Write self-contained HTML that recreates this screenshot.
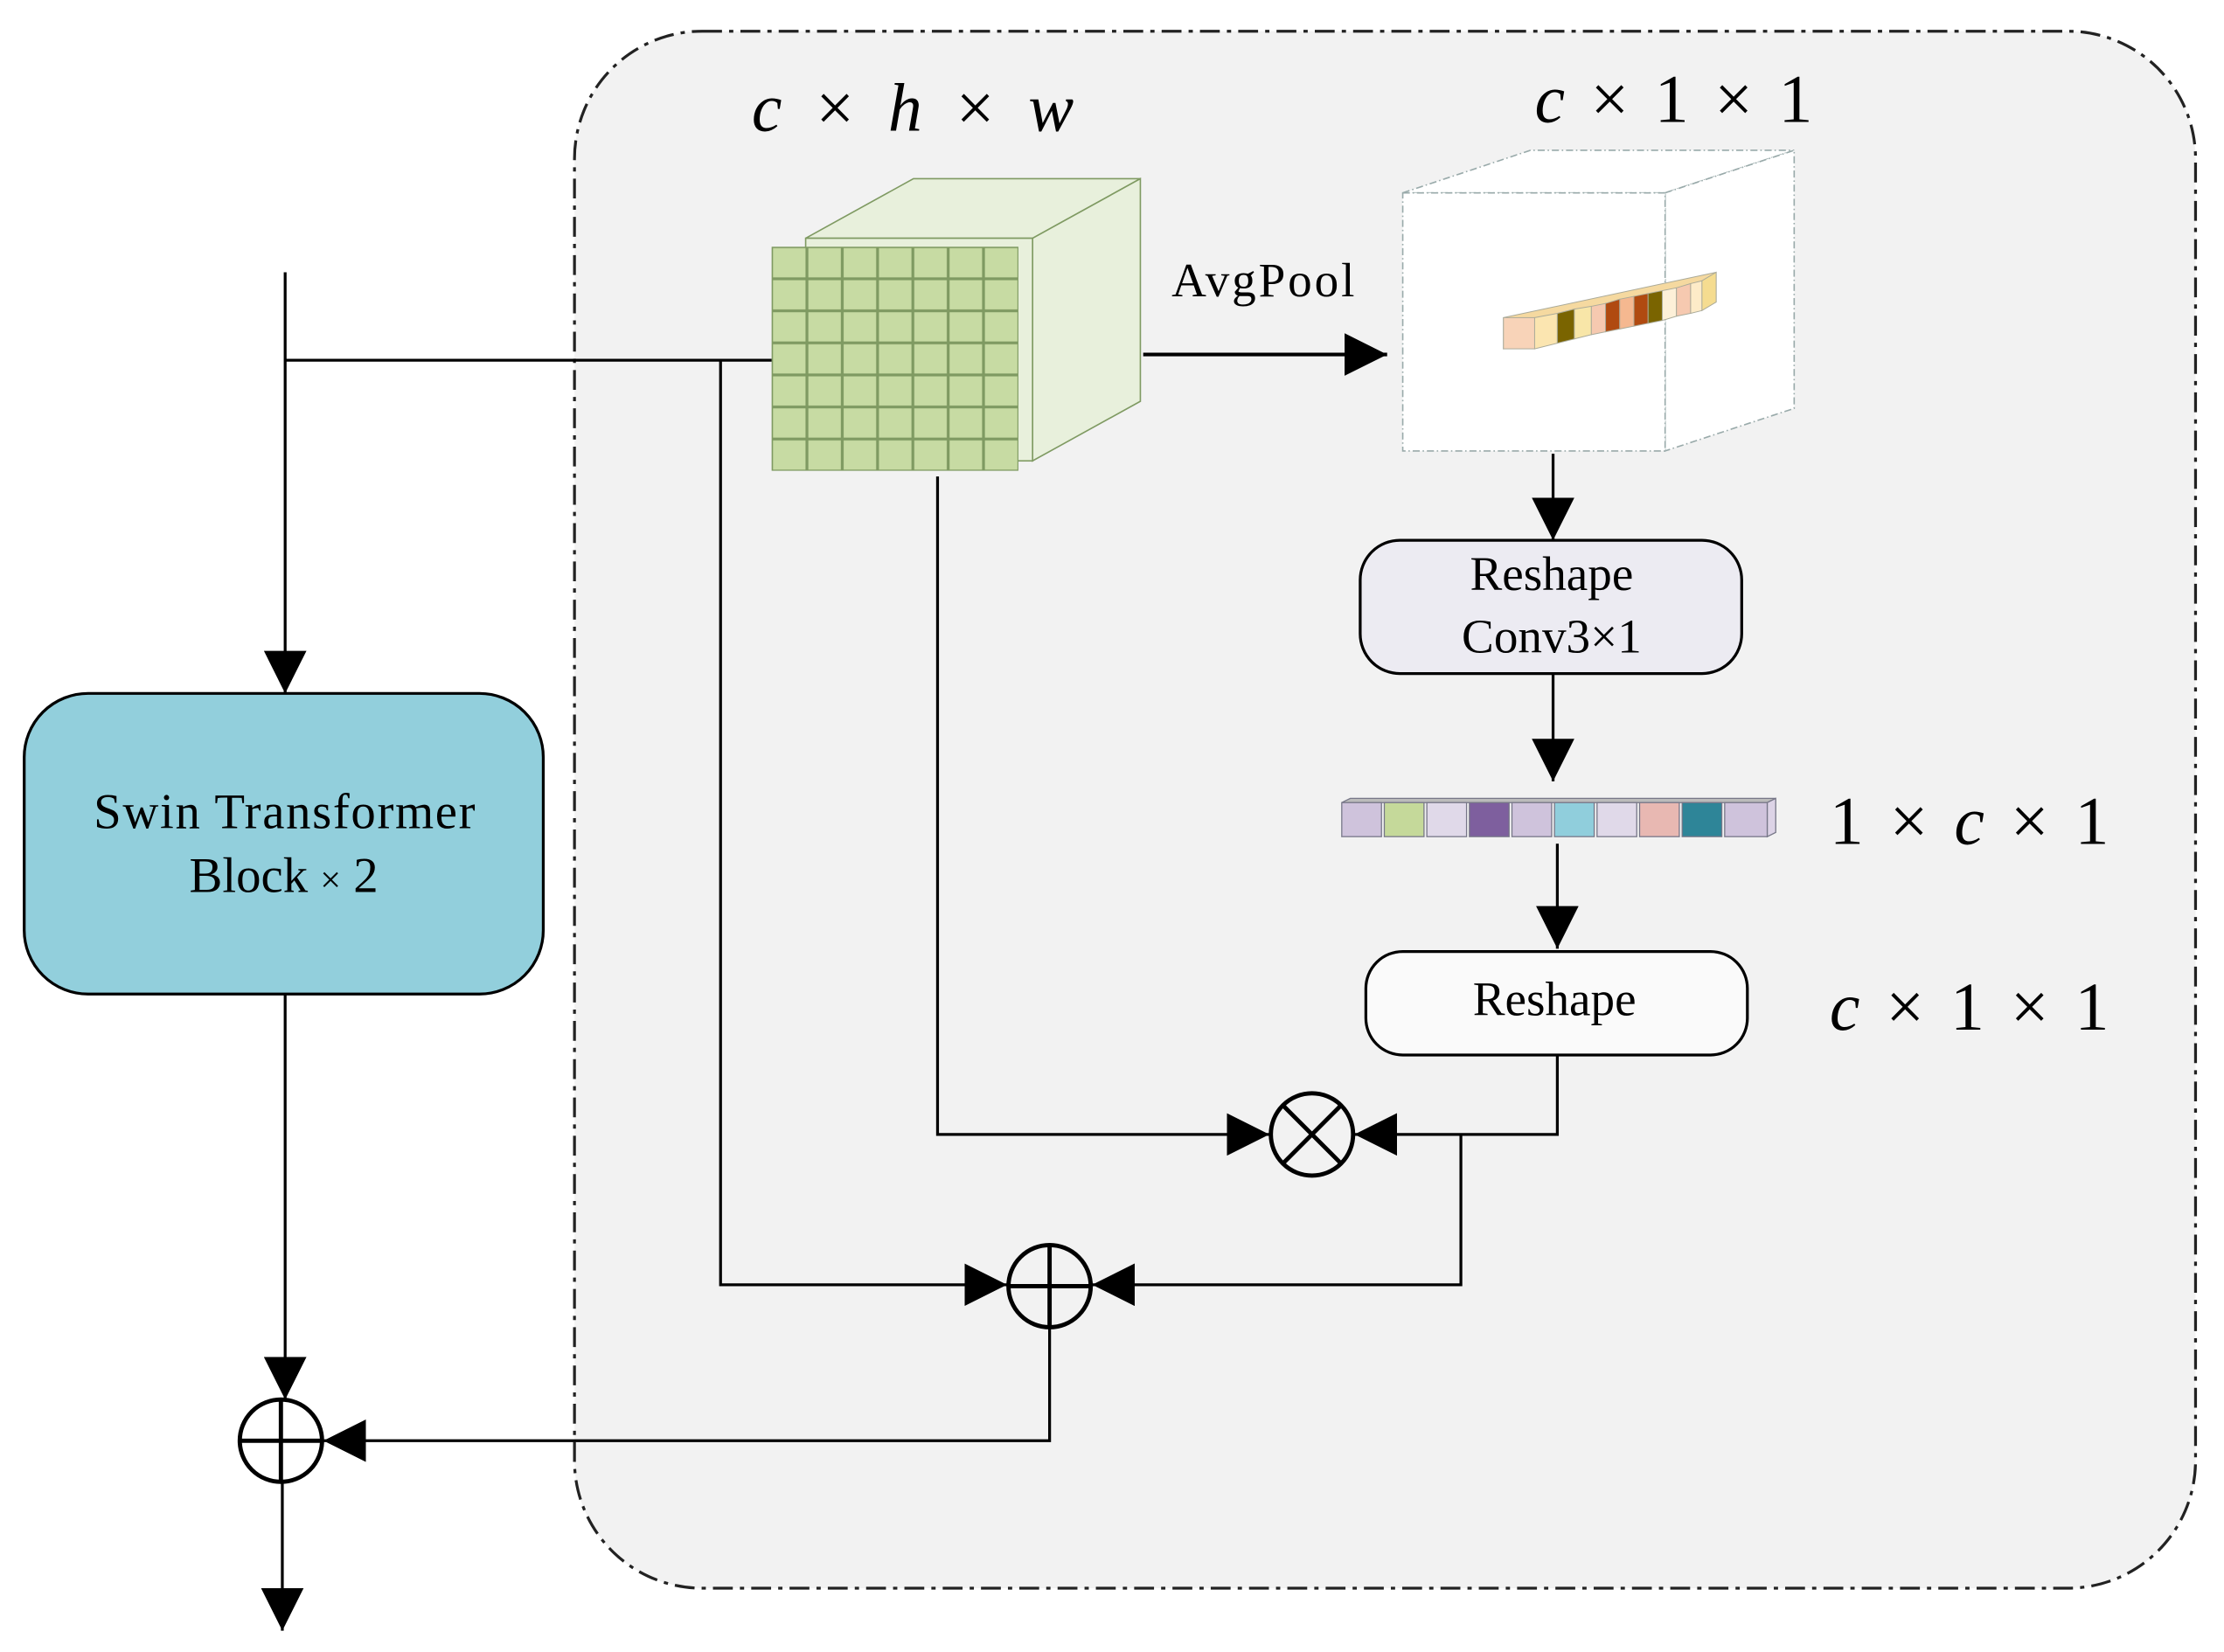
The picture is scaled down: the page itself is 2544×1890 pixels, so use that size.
<!DOCTYPE html>
<html><head><style>html,body{margin:0;padding:0;background:#fff}svg{display:block}</style></head><body>
<svg width="2544" height="1890" viewBox="0 0 1568 1165" xmlns="http://www.w3.org/2000/svg" font-family="Liberation Serif, serif">
<defs>
<marker id="a" markerWidth="30" markerHeight="30" refX="10" refY="5" orient="auto" markerUnits="userSpaceOnUse" viewBox="0 0 10 10"><path d="M0,0 L10,5 L0,10z" fill="#000"/></marker>
<pattern id="g" x="544" y="174" width="24.9" height="22.6" patternUnits="userSpaceOnUse"><rect x="0.5" y="0.5" width="23.9" height="21.6" fill="#c7dba3" stroke="#7f9a62" stroke-width="1"/></pattern>
</defs>
<rect x="405" y="22" width="1143" height="1098" rx="90" fill="#f2f2f2" stroke="#222" stroke-width="2" stroke-dasharray="14,5,3,5"/>
<polygon points="568,168 644,126 804,126 728,168" fill="#e8f0dc" stroke="#7f9a62"/>
<polygon points="728,168 804,126 804,283 728,325" fill="#e8f0dc" stroke="#7f9a62"/>
<rect x="568" y="168" width="160" height="157" fill="#e8f0dc" stroke="#7f9a62"/>
<rect x="544" y="174" width="174" height="158" fill="url(#g)"/>
<g fill="#fff" stroke="#9aa" stroke-dasharray="5,2,1,2">
<polygon points="989,136 1079,106 1265,106 1174,136"/>
<polygon points="1174,136 1265,106 1265,288 1174,318"/>
<rect x="989" y="136" width="185" height="182"/>
</g>
<g stroke="#aa9" stroke-width="0.6">
<polygon points="1060,224 1210,192 1210,213 1060,246" fill="#f5d9a0"/>
<rect x="1060" y="224" width="22" height="22" fill="#f8d3b8"/>
<polygon points="1082,224 1098,221 1098,242 1082,246" fill="#fbe5b0"/>
<polygon points="1098,221 1110,218 1110,239 1098,242" fill="#7a6400"/>
<polygon points="1110,218 1122,216 1122,236 1110,239" fill="#f8e6a8"/>
<polygon points="1122,216 1132,214 1132,234 1122,236" fill="#f6c9b0"/>
<polygon points="1132,214 1142,211 1142,232 1132,234" fill="#b04a10"/>
<polygon points="1142,211 1152,209 1152,230 1142,232" fill="#f5b890"/>
<polygon points="1152,209 1162,207 1162,228 1152,230" fill="#b04a10"/>
<polygon points="1162,207 1172,205 1172,226 1162,228" fill="#7a6400"/>
<polygon points="1172,205 1182,203 1182,223 1172,226" fill="#fdf0d8"/>
<polygon points="1182,203 1192,200 1192,221 1182,223" fill="#f6c9b0"/>
<polygon points="1192,200 1200,198 1200,219 1192,221" fill="#fdebc8"/>
<polygon points="1200,198 1210,192 1210,213 1200,219" fill="#f5dc90"/>
</g>
<g stroke="#778" stroke-width="0.8">
<polygon points="946,566 952,563 1252,563 1246,566" fill="#bbb"/>
<polygon points="1246,566 1252,563 1252,587 1246,590" fill="#dcd3e6"/>
<rect x="946" y="566" width="28" height="24" fill="#cfc3dc"/>
<rect x="976" y="566" width="28" height="24" fill="#c5d99a"/>
<rect x="1006" y="566" width="28" height="24" fill="#e0d9e9"/>
<rect x="1036" y="566" width="28" height="24" fill="#7e5f9e"/>
<rect x="1066" y="566" width="28" height="24" fill="#cfc3dc"/>
<rect x="1096" y="566" width="28" height="24" fill="#90cedc"/>
<rect x="1126" y="566" width="28" height="24" fill="#e0d9e9"/>
<rect x="1156" y="566" width="28" height="24" fill="#e8b8b2"/>
<rect x="1186" y="566" width="28" height="24" fill="#2e8598"/>
<rect x="1216" y="566" width="30" height="24" fill="#cfc3dc"/>
</g>
<rect x="959" y="381" width="269" height="94" rx="28" fill="#ecebf2" stroke="#000" stroke-width="2"/>
<text x="1094" y="416" font-size="34" text-anchor="middle">Reshape</text>
<text x="1094" y="460" font-size="34" text-anchor="middle">Conv3×1</text>
<rect x="963" y="671" width="269" height="73" rx="26" fill="#fafafa" stroke="#000" stroke-width="2"/>
<text x="1096" y="716" font-size="34" text-anchor="middle">Reshape</text>
<rect x="17" y="489" width="366" height="212" rx="45" fill="#92cfdc" stroke="#000" stroke-width="2"/>
<text x="66" y="584" font-size="35" textLength="269">Swin Transformer</text>
<text x="200" y="629" font-size="35" text-anchor="middle">Block <tspan font-size="26">×</tspan> 2</text>
<g stroke="#000" stroke-width="2" fill="none">
<path d="M806,250 H978" marker-end="url(#a)" stroke-width="2.5"/>
<path d="M201,192 V489" marker-end="url(#a)"/>
<path d="M201,254 H544"/>
<path d="M508,254 V906 H710" marker-end="url(#a)"/>
<path d="M661,336 V800 H895" marker-end="url(#a)"/>
<path d="M1095,320 V381" marker-end="url(#a)"/>
<path d="M1095,475 V551" marker-end="url(#a)"/>
<path d="M1098,595 V669" marker-end="url(#a)"/>
<path d="M1098,744 V800 H955" marker-end="url(#a)"/>
<path d="M1030,800 V906 H770" marker-end="url(#a)"/>
<path d="M740,937 V1016 H228" marker-end="url(#a)"/>
<path d="M201,701 V987" marker-end="url(#a)"/>
<path d="M199,1046 V1150" marker-end="url(#a)"/>
<circle cx="925" cy="800" r="29" stroke-width="3"/>
<path d="M905,780 L945,820 M945,780 L905,820" stroke-width="3"/>
<circle cx="740" cy="907" r="29" stroke-width="3"/>
<path d="M711,907 H769 M740,878 V936" stroke-width="3"/>
<circle cx="198" cy="1016" r="29" stroke-width="3"/>
<path d="M169,1016 H227 M198,987 V1045" stroke-width="3"/>
</g>
<text x="826" y="209" font-size="34" textLength="129">AvgPool</text>
<g font-size="48" font-style="italic">
<text x="530" y="92" textLength="227">c <tspan font-style="normal">×</tspan> h <tspan font-style="normal">×</tspan> w</text>
<text x="1082" y="86" textLength="196">c <tspan font-style="normal">× 1 × 1</tspan></text>
<text x="1290" y="595" textLength="197"><tspan font-style="normal">1 ×</tspan> c <tspan font-style="normal">× 1</tspan></text>
<text x="1290" y="726" textLength="197">c <tspan font-style="normal">× 1 × 1</tspan></text>
</g>
</svg>
</body></html>
